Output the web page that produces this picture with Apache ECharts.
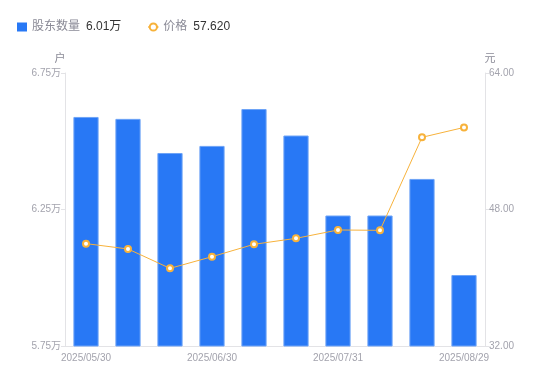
<!DOCTYPE html>
<html><head><meta charset="utf-8">
<script src="https://cdn.jsdelivr.net/npm/echarts@6/dist/echarts.min.js"></script>
<style>html,body{margin:0;padding:0;background:#fff}#c{width:550px;height:381px}</style>
</head><body><div id="c"></div>
<script>
var categories = ['2025/05/30','2025/06/10','2025/06/20','2025/06/30','2025/07/10','2025/07/20','2025/07/31','2025/08/10','2025/08/20','2025/08/29'];
var holders = [6.589, 6.582, 6.457, 6.483, 6.618, 6.521, 6.228, 6.228, 6.362, 6.010];
var prices = [44.00, 43.37, 41.10, 42.47, 43.92, 44.62, 45.60, 45.56, 56.46, 57.62];
var leftTicks = [5.75, 6.25, 6.75];
var rightTicks = [32, 48, 64];

var FONT = 'Liberation Sans, Arial, Noto Sans CJK SC, sans-serif';
var chart = echarts.init(document.getElementById('c'));
chart.setOption({
  animation: false,
  textStyle: {fontFamily: FONT},
  legend: {
    left: 12, top: 16, itemGap: 26, itemWidth: 10, itemHeight: 9,
    data: [{name: '股东数量', icon: 'rect', itemStyle: {borderWidth: 0}}, {name: '价格'}],
    formatter: function (n) {
      if (n === '股东数量') return '{a|' + n + '}{b|' + holders[holders.length-1].toFixed(2) + '万}';
      return '{a|' + n + '}{b|' + prices[prices.length-1].toFixed(3) + '}';
    },
    textStyle: {
      fontFamily: FONT,
      rich: {
        a: {color: '#8a8a96', fontSize: 12, fontFamily: FONT, padding: [0, 6, 0, 0]},
        b: {color: '#333', fontSize: 12, fontFamily: FONT}
      }
    }
  },
  grid: {left: 65, right: 65, top: 73, bottom: 35},
  xAxis: {
    type: 'category', data: categories,
    axisTick: {show: false},
    axisLine: {lineStyle: {color: '#e3e3e6'}},
    axisLabel: {color: '#a3a3ad', fontSize: 10, interval: 2, margin: 7, fontFamily: FONT}
  },
  yAxis: [{
    type: 'value', name: '户', min: leftTicks[0], max: leftTicks[2], interval: 0.5,
    nameTextStyle: {color: '#8a8a96', fontSize: 11, padding: [0, 10, 0, 0]},
    nameGap: 9,
    axisLine: {show: true, lineStyle: {color: '#e3e3e6'}},
    axisTick: {show: true, length: 4, lineStyle: {color: '#e3e3e6'}},
    splitLine: {show: false},
    axisLabel: {color: '#a3a3ad', fontSize: 10, margin: 4, fontFamily: FONT,
      formatter: function (v) { return v.toFixed(2) + '万'; }}
  }, {
    type: 'value', name: '元', min: rightTicks[0], max: rightTicks[2], interval: 16,
    nameTextStyle: {color: '#8a8a96', fontSize: 11, padding: [0, 0, 0, 10]},
    nameGap: 9,
    axisLine: {show: true, lineStyle: {color: '#e3e3e6'}},
    axisTick: {show: true, length: 4, lineStyle: {color: '#e3e3e6'}},
    splitLine: {show: false},
    axisLabel: {color: '#a3a3ad', fontSize: 10, margin: 4, fontFamily: FONT,
      formatter: function (v) { return v.toFixed(2); }}
  }],
  series: [{
    name: '股东数量', type: 'bar', data: holders, barWidth: '60%',
    itemStyle: {color: '#2878f5', borderColor: '#6ea4f7', borderWidth: 1}
  }, {
    name: '价格', type: 'line', yAxisIndex: 1, data: prices,
    symbol: 'emptyCircle', symbolSize: 6,
    lineStyle: {color: '#f7b23b', width: 1},
    itemStyle: {color: '#f7b23b', borderWidth: 2}
  }]
});
</script></body></html>
